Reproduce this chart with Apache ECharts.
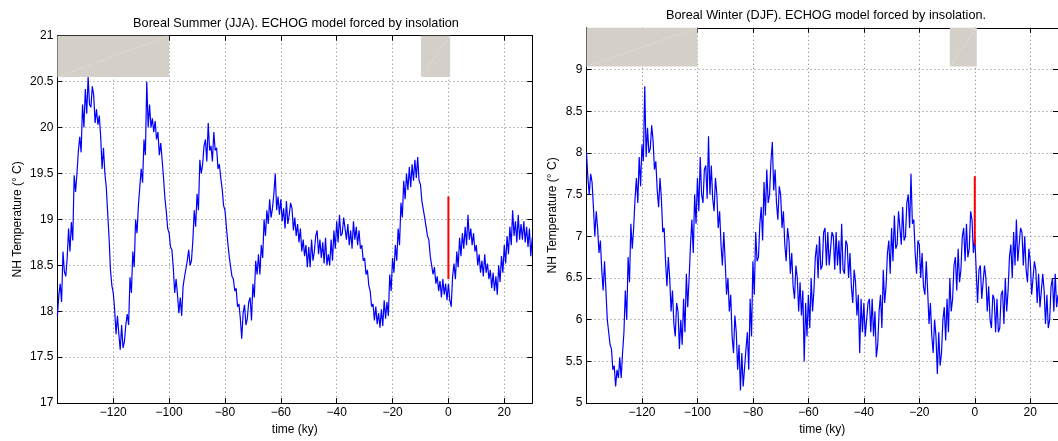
<!DOCTYPE html>
<html><head><meta charset="utf-8">
<script src="https://cdn.jsdelivr.net/npm/echarts@6/dist/echarts.min.js"></script>
<style>html,body{margin:0;padding:0;background:#fff}#c{width:1058px;height:441px}</style>
</head><body><div id="c"></div>
<script>
// time grid of both records (ky), one sample every 0.5 ky from -140 to 30
const timeStart = -140;
const timeStep = 0.5;

// Boreal summer (JJA) NH temperature, deg C
const summerTemp = [
17.95,18.17,18.3,18.1,18.65,18.43,18.38,18.58,18.9,18.65,18.97,18.77,19.48,19.3,19.5,19.74,19.9,19.73,20.25,20.0,
20.42,20.15,20.55,20.25,20.22,20.45,20.35,20.05,20.2,20.03,20.13,19.9,19.55,19.78,19.5,19.35,19.07,18.8,18.45,18.28,
18.2,18.02,17.75,17.95,17.75,17.58,17.85,17.6,17.67,17.85,17.97,17.85,18.37,18.2,18.65,18.48,19.0,18.85,19.15,19.35,
19.55,19.4,19.87,19.7,20.5,20.0,20.25,20.0,20.1,19.95,20.07,19.87,19.95,19.7,19.83,19.65,19.45,19.23,19.08,18.9,
18.85,18.7,18.67,18.47,18.2,18.35,18.18,17.98,18.15,17.95,18.27,18.37,18.37,18.55,18.67,18.5,18.55,18.77,19.1,18.92,
19.28,19.1,19.65,19.5,19.6,19.8,19.87,19.63,20.05,19.75,19.8,19.63,19.95,19.75,19.78,19.55,19.6,19.45,19.33,19.15,
19.1,18.92,18.75,18.6,18.6,18.38,18.35,18.22,18.25,18.05,18.08,17.92,17.7,17.98,18.07,17.85,17.92,18.1,18.15,17.9,
18.3,18.15,18.55,18.4,18.62,18.4,18.72,18.58,19.0,18.82,19.1,18.95,19.22,19.02,19.12,19.28,19.5,19.1,19.25,19.05,
19.22,18.98,19.12,18.9,19.2,18.95,19.05,19.18,19.12,18.88,19.02,18.82,18.95,18.75,18.9,18.65,18.78,18.6,18.72,18.48,
18.7,18.48,18.78,18.55,18.65,18.82,18.88,18.62,18.78,18.58,18.75,18.52,18.8,18.5,18.62,18.5,18.78,18.55,18.88,18.68,
18.98,18.75,19.05,18.82,18.85,19.02,19.0,18.78,18.95,18.72,18.88,18.68,18.98,18.78,18.92,18.72,18.88,18.68,18.72,18.55,
18.58,18.4,18.45,18.28,18.22,18.05,18.08,17.9,18.05,17.86,17.98,17.82,18.02,17.84,18.12,17.92,18.1,17.95,18.4,18.22,
18.58,18.42,18.72,18.55,18.9,18.72,19.18,19.02,19.42,19.22,19.5,19.32,19.57,19.35,19.6,19.42,19.65,19.45,19.68,19.42,
19.38,19.2,19.22,19.02,19.0,18.82,18.78,18.6,18.58,18.4,18.48,18.3,18.38,18.22,18.33,18.15,18.35,18.18,18.3,18.12,
18.3,18.12,18.05,18.38,18.52,18.35,18.65,18.48,18.8,18.6,18.85,18.68,18.92,18.72,19.05,18.78,18.9,18.72,18.85,18.65,
18.72,18.5,18.62,18.42,18.55,18.38,18.62,18.42,18.52,18.35,18.45,18.25,18.42,18.22,18.38,18.18,18.5,18.32,18.6,18.42,
18.72,18.52,18.82,18.62,18.92,18.72,19.1,18.82,18.98,18.75,19.05,18.78,18.95,18.78,18.98,18.75,18.92,18.7,18.9,18.6,18.8
];

// Boreal winter (DJF) NH temperature, deg C
const winterTemp = [
8.0,7.7,7.5,7.75,7.65,7.35,7.0,7.3,7.1,6.8,6.95,6.6,6.35,6.7,6.35,6.0,6.0,5.7,5.65,5.4,
5.45,5.2,5.4,5.3,5.55,5.3,5.6,5.85,6.35,6.0,6.75,6.45,7.15,6.85,7.1,7.45,7.7,7.4,7.95,7.6,
8.1,7.9,8.8,7.95,8.3,8.0,8.05,8.33,8.15,7.8,7.9,7.55,7.35,7.7,7.45,7.05,7.1,6.7,6.4,6.75,
6.5,6.1,6.35,5.95,5.8,6.2,6.1,5.65,6.0,5.7,6.25,5.85,6.55,6.15,6.5,6.9,7.2,6.8,7.5,7.15,
7.7,7.3,7.95,7.5,7.4,7.8,7.85,7.45,8.2,7.5,7.85,7.45,7.3,7.7,7.5,7.1,7.3,6.9,6.65,7.05,
6.7,6.3,6.5,6.1,6.3,5.8,5.6,6.05,5.85,5.4,5.7,5.15,5.6,5.2,5.2,5.65,5.85,5.4,6.25,5.8,
6.7,6.3,7.05,6.7,6.75,7.15,7.35,6.95,7.65,7.25,7.8,7.4,7.5,7.9,8.13,7.55,7.8,7.4,7.2,7.6,
7.5,7.1,7.3,6.9,6.7,7.1,6.95,6.55,6.8,6.4,6.25,6.65,6.5,6.1,6.45,6.05,6.35,5.5,6.2,5.8,
6.3,5.9,6.5,6.1,6.35,6.75,6.9,6.5,7.0,6.6,6.65,7.05,7.1,6.65,7.05,6.65,6.65,7.05,7.0,6.6,
7.05,6.65,6.95,6.55,7.15,6.6,6.55,6.95,6.9,6.5,6.8,6.4,6.2,6.6,6.45,6.05,6.3,5.6,6.25,5.85,
6.2,5.8,5.8,6.2,6.25,5.85,6.25,5.8,6.1,5.55,5.7,6.1,6.3,5.9,6.6,6.2,6.4,6.8,6.95,6.55,
7.1,6.7,7.25,6.85,6.9,7.3,7.3,6.9,7.35,6.95,7.0,7.4,7.5,7.1,7.75,7.15,7.2,6.8,6.55,6.95,
6.9,6.5,6.8,6.4,6.3,6.7,6.35,5.95,6.2,5.8,5.6,6.0,5.8,5.35,5.85,5.45,5.6,6.0,6.15,5.75,
6.25,5.85,6.5,6.1,6.25,6.65,6.75,6.35,6.85,6.45,6.6,7.0,7.1,6.7,7.15,6.75,6.85,7.3,7.2,6.8,
7.0,6.6,6.2,6.6,6.65,6.25,6.25,6.65,6.5,6.1,6.4,6.0,5.9,6.3,6.25,5.85,6.25,5.85,5.9,6.3,
6.35,5.95,6.5,6.1,6.35,6.75,6.9,6.5,7.05,6.65,7.2,6.7,6.7,7.1,7.05,6.65,7.0,6.6,6.45,6.85,
6.7,6.3,6.3,6.7,6.6,6.2,6.55,6.15,6.15,6.55,6.35,5.95,6.3,5.9,6.0,6.4,6.5,6.1,6.55,6.15,6.3
];

// present-day (red) segments [time, temp]
const summerRecent = [[0, 18.35], [0, 19.25]];
const winterRecent = [[0, 6.9], [0, 7.72]];

// grey boxes [timeFrom, timeTo, tempFrom, tempTo]
const summerBoxes = [[-140, -100, 20.55, 21], [-9.8, 0.6, 20.55, 21]];
const winterBoxes = [[-140, -100, 9.035, 9.5], [-9.0, 0.7, 9.035, 9.5]];

const titles = ['Boreal Summer (JJA). ECHOG model forced by insolation',
                'Boreal Winter (DJF). ECHOG model forced by insolation.'];
const xName = 'time (ky)';
const yName = 'NH Temperature (\u00B0 C)';

const FONT = "'Liberation Sans', Arial, Helvetica, sans-serif";
const chart = echarts.init(document.getElementById('c'), null, {renderer: 'canvas'});

function toPairs(arr) { return arr.map((v, i) => [timeStart + i * timeStep, v]); }
const minus = v => String(v).replace('-', '\u2212');

const grids = [
  {left: 57.4, top: 35.7, width: 474.8, height: 373.3},
  {left: 586.5, top: 27.8, width: 481.5, height: 380.2}
];
const yRanges = [[17, 21], [5, 9.5]];
const yNameGaps = [34, 28];

const xAxes = [], yAxes = [];
grids.forEach((g, gi) => {
  xAxes.push({
    type: 'value', gridIndex: gi, min: -140, max: 30, interval: 20, position: 'bottom',
    axisLine: {onZero: false, lineStyle: {color: '#000', width: 1}},
    axisTick: {inside: true, length: 5, lineStyle: {color: '#000'}},
    axisLabel: {margin: 4, fontSize: 12, color: '#000', fontFamily: FONT,
                showMinLabel: false, showMaxLabel: false, formatter: minus},
    splitLine: {show: true, lineStyle: {color: '#808080', type: [1, 3], width: 1}},
    name: xName, nameLocation: 'middle', nameGap: 19,
    nameTextStyle: {fontSize: 12, color: '#000', fontFamily: FONT}
  });
  xAxes.push({
    type: 'value', gridIndex: gi, min: -140, max: 30, interval: 20, position: 'top',
    axisLine: {onZero: false, lineStyle: {color: '#000', width: 1}},
    axisTick: {inside: true, length: 5, lineStyle: {color: '#000'}},
    axisLabel: {show: false}, splitLine: {show: false}
  });
  yAxes.push({
    type: 'value', gridIndex: gi, min: yRanges[gi][0], max: yRanges[gi][1], interval: 0.5, position: 'left',
    axisLine: {onZero: false, lineStyle: {color: '#000', width: 1}},
    axisTick: {inside: true, length: 5, lineStyle: {color: '#000'}},
    axisLabel: {margin: 4, fontSize: 12, color: '#000', fontFamily: FONT,
                showMaxLabel: gi === 0},
    splitLine: {show: true, lineStyle: {color: '#808080', type: [1, 3], width: 1}},
    name: yName, nameLocation: 'middle', nameGap: yNameGaps[gi], nameRotate: 90,
    nameTextStyle: {fontSize: 12, color: '#000', fontFamily: FONT}
  });
  yAxes.push({
    type: 'value', gridIndex: gi, min: yRanges[gi][0], max: yRanges[gi][1], interval: 0.5, position: 'right',
    axisLine: {onZero: false, lineStyle: {color: '#000', width: 1}},
    axisTick: {inside: true, length: 5, lineStyle: {color: '#000'}},
    axisLabel: {show: false}, splitLine: {show: false}
  });
});

function boxSeries(boxes, ax) {
  return {
    type: 'custom', xAxisIndex: ax, yAxisIndex: ax, z: 5, silent: true,
    data: boxes, encode: {x: [0, 1], y: [2, 3]},
    renderItem: function (params, api) {
      const p0 = api.coord([api.value(0), api.value(3)]);
      const p1 = api.coord([api.value(1), api.value(2)]);
      return {type: 'group', children: [
        {type: 'rect', shape: {x: p0[0], y: p0[1], width: p1[0] - p0[0], height: p1[1] - p0[1]},
         style: {fill: '#d4d0c8'}},
        {type: 'line', shape: {x1: p0[0], y1: p1[1], x2: p1[0], y2: p0[1]},
         style: {stroke: 'rgba(255,255,255,0.55)', lineWidth: 0.6, lineDash: [2, 2]}}
      ]};
    }
  };
}

function lineSeries(data, ax, color, width, z) {
  return {type: 'line', xAxisIndex: ax, yAxisIndex: ax, data: data, showSymbol: false,
          symbol: 'none', lineStyle: {color: color, width: width}, z: z, silent: true, clip: true};
}

const titleStyle = {fontSize: 12.7, fontWeight: 'normal', color: '#000', fontFamily: FONT};
chart.setOption({
  animation: false,
  backgroundColor: '#fff',
  title: [
    {text: titles[0], left: 291, top: 12, textAlign: 'center', textStyle: titleStyle},
    {text: titles[1], left: 821, top: 3.5, textAlign: 'center', textStyle: titleStyle}
  ],
  grid: grids,
  xAxis: xAxes,
  yAxis: yAxes,
  series: [
    lineSeries(toPairs(summerTemp), 0, '#0000ff', 1.2, 2),
    lineSeries(summerRecent, 0, '#ff0000', 2, 3),
    boxSeries(summerBoxes, 0),
    lineSeries(toPairs(winterTemp), 2, '#0000ff', 1.2, 2),
    lineSeries(winterRecent, 2, '#ff0000', 2, 3),
    boxSeries(winterBoxes, 2)
  ]
});
</script></body></html>
